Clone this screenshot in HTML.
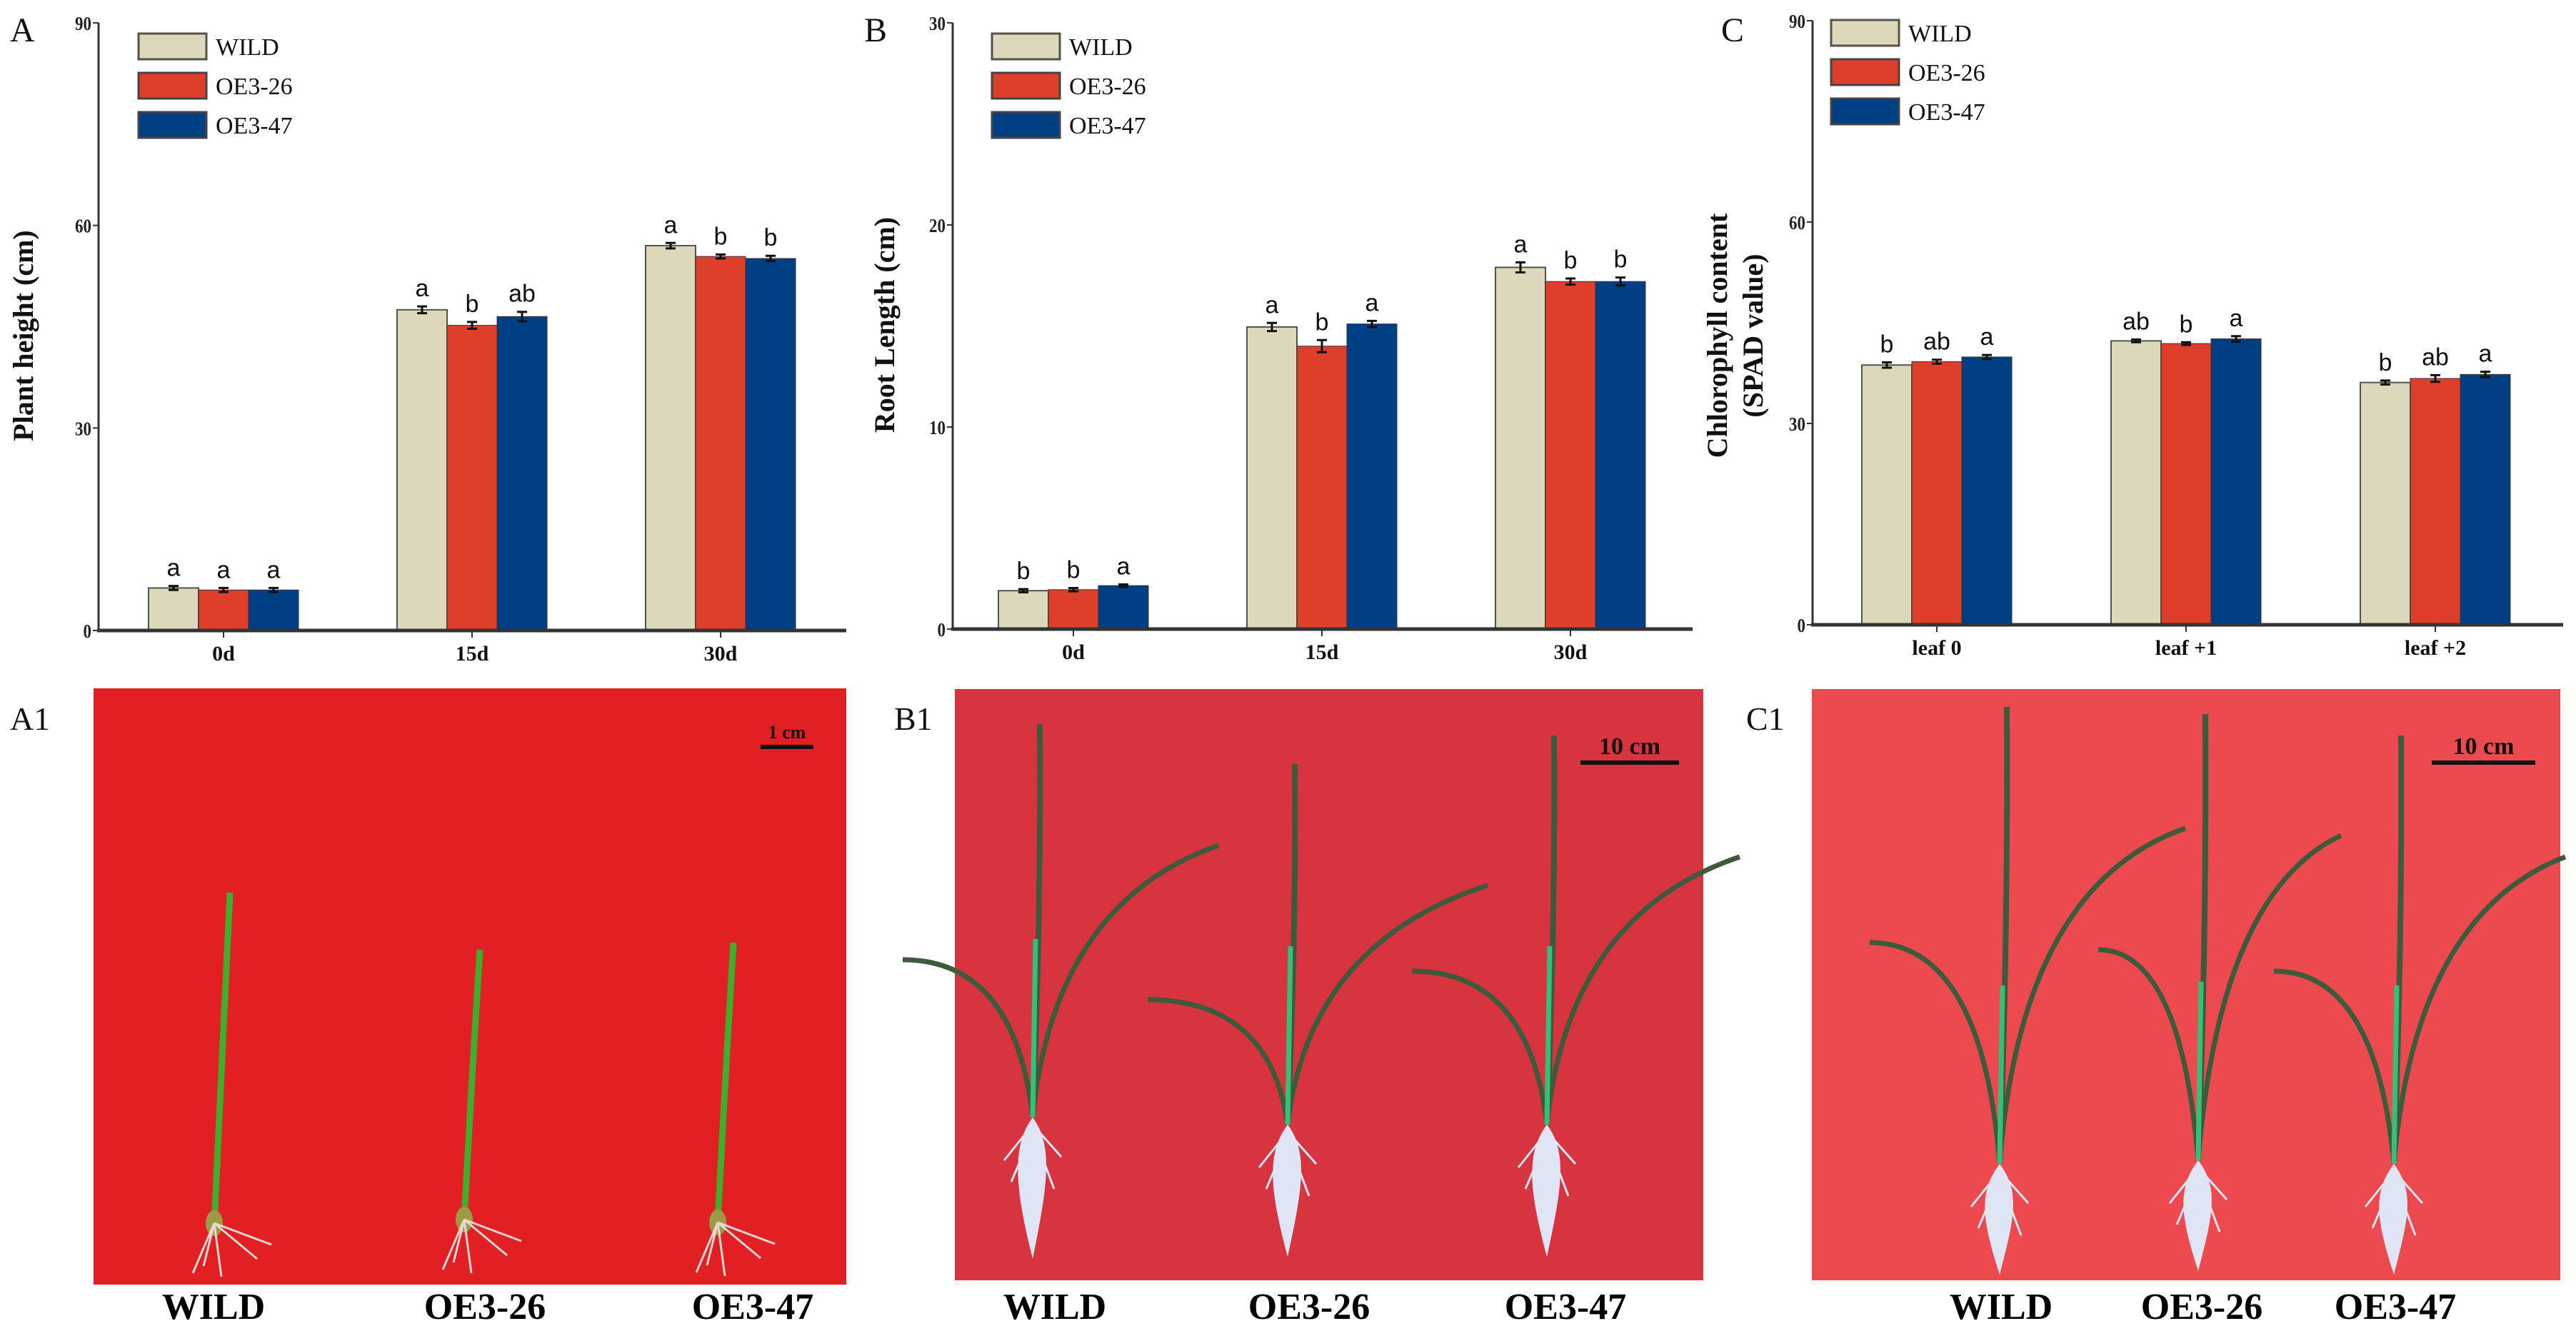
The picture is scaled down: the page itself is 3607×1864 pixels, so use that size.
<!DOCTYPE html>
<html><head><meta charset="utf-8">
<style>
html,body{margin:0;padding:0;background:#fff;}
svg{display:block;}
text{font-family:"Liberation Serif",serif;}
.sans{font-family:"Liberation Sans",sans-serif;}
</style></head>
<body>
<svg id="fig" width="3607" height="1864" viewBox="0 0 3607 1864" xmlns="http://www.w3.org/2000/svg">
<rect width="3607" height="1864" fill="#fff"/>
<g id="charts"></g>
<g id="photos"></g>
</svg>
<script>
const series = ["WILD","OE3-26","OE3-47"];
const colors = ["#dcd8bb","#dd3f2a","#003f84"];
const catsA = ["0d","15d","30d"];
const valsA_wild = [6.3,47.5,57.0];
const valsA_oe26 = [6.0,45.2,55.4];
const valsA_oe47 = [6.0,46.5,55.1];
const errA_wild = [0.3,0.5,0.4];
const errA_oe26 = [0.3,0.5,0.3];
const errA_oe47 = [0.3,0.7,0.4];
const lettersA = [["a","a","a"],["a","b","ab"],["a","b","b"]];
const ticksA = [0,30,60,90];

const catsB = ["0d","15d","30d"];
const valsB_wild = [1.9,14.95,17.9];
const valsB_oe26 = [1.95,14.0,17.2];
const valsB_oe47 = [2.15,15.1,17.2];
const errB_wild = [0.08,0.2,0.25];
const errB_oe26 = [0.08,0.3,0.15];
const errB_oe47 = [0.06,0.15,0.2];
const lettersB = [["b","b","a"],["a","b","a"],["a","b","b"]];
const ticksB = [0,10,20,30];

const catsC = ["leaf 0","leaf +1","leaf +2"];
const valsC_wild = [38.7,42.3,36.1];
const valsC_oe26 = [39.2,41.9,36.7];
const valsC_oe47 = [39.9,42.6,37.3];
const errC_wild = [0.4,0.2,0.3];
const errC_oe26 = [0.3,0.2,0.5];
const errC_oe47 = [0.3,0.4,0.4];
const lettersC = [["b","ab","a"],["ab","b","a"],["b","ab","a"]];
const ticksC = [0,30,60,90];

const NS="http://www.w3.org/2000/svg";
function mk(tag, attrs, parent){const e=document.createElementNS(NS,tag);for(const k in attrs)e.setAttribute(k,attrs[k]);if(parent)parent.appendChild(e);return e;}

function drawChart(cfg){
  const root=document.getElementById('charts');
  const g=mk('g',{},root);
  
  
  const yScale=v=>cfg.y0-(v-cfg.ticks[0])/(cfg.ticks[cfg.ticks.length-1]-cfg.ticks[0])*(cfg.y0-cfg.yTop);
  const xCenter=i=>cfg.gx0+i*cfg.gstep;
  const bw=70;
  const vals=[cfg.v0,cfg.v1,cfg.v2], errs=[cfg.e0,cfg.e1,cfg.e2];
  cfg.cats.forEach((c,i)=>{
    for(let s=0;s<3;s++){
      const x=xCenter(i)+(s-1.5)*bw, yv=yScale(vals[s][i]);
      const r=mk('rect',{x:x,y:yv,width:bw,height:cfg.y0-yv,fill:colors[s],stroke:s==0?'#55524a':'#333',"stroke-width":s==0?2:1},g);
      
      
      const cx=x+bw/2, et=yScale(vals[s][i]+errs[s][i]), eb=yScale(vals[s][i]-errs[s][i]);
      const eg=mk('path',{d:`M${cx},${et}V${eb}M${cx-7},${et}H${cx+7}M${cx-7},${eb}H${cx+7}`,stroke:'#111',"stroke-width":3,fill:'none'},g);
      
      
      const t=mk('text',{x:cx,y:et-14,"text-anchor":"middle","font-size":34,class:'sans',fill:'#111'},g);
      t.textContent=cfg.letters[i][s];
      
      
    }
    mk('line',{x1:xCenter(i),x2:xCenter(i),y1:cfg.y0,y2:cfg.y0+10,stroke:'#333',"stroke-width":2},g);
    const lb=mk('text',{x:xCenter(i),y:cfg.y0+42,"text-anchor":"middle","font-size":30,"font-weight":"bold",fill:'#111'},g);
    lb.textContent=c;
    
    
  });
  const ya=mk('line',{x1:cfg.ax,x2:cfg.ax,y1:cfg.yTop,y2:cfg.y0+2,stroke:'#333',"stroke-width":3},g);
  
  
  const xa=mk('line',{x1:cfg.ax-2,x2:cfg.xEnd,y1:cfg.y0,y2:cfg.y0,stroke:'#333',"stroke-width":5},g);
  
  
  cfg.ticks.forEach(tv=>{
    const y=yScale(tv);
    mk('line',{x1:cfg.ax-8,x2:cfg.ax,y1:y,y2:y,stroke:'#333',"stroke-width":2},g);
    const t=mk('text',{x:cfg.ax-10,y:y+10,"text-anchor":"end","font-size":27,"font-weight":"bold",fill:'#222',transform:`translate(${(cfg.ax-10)*0.15},0) scale(0.85,1)`},g);
    t.textContent=tv;
    
    
  });
  cfg.ytitle.forEach((line,k)=>{
    const t=mk('text',{transform:`translate(${cfg.ytx+k*50},${cfg.yty}) rotate(-90)`,"text-anchor":"middle","font-size":40,"font-weight":"bold",fill:'#111'},g);
    t.textContent=line;
    
    
  });
  const pl=mk('text',{x:cfg.px,y:58,"font-size":48,fill:'#111'},g);
  pl.textContent=cfg.panel;
  
  
  for(let s=0;s<3;s++){
    const y=cfg.ly+s*55;
    const r=mk('rect',{x:cfg.lx,y:y,width:95,height:36,fill:colors[s],stroke:s==0?'#55524a':'#444',"stroke-width":3},g);
    
    
    const t=mk('text',{x:cfg.lx+108,y:y+30,"font-size":34,fill:'#111'},g);
    t.textContent=series[s];
    
    
  }
}
drawChart({name:'chart-plant-height',panel:'A',px:14,ax:138,y0:883,yTop:32,xEnd:1185,gx0:313,gstep:348,cats:catsA,v0:valsA_wild,v1:valsA_oe26,v2:valsA_oe47,e0:errA_wild,e1:errA_oe26,e2:errA_oe47,letters:lettersA,ticks:ticksA,ytitle:['Plant height (cm)'],ytx:46,yty:470,lx:194,ly:47});
drawChart({name:'chart-root-length',panel:'B',px:1210,ax:1334,y0:881,yTop:32,xEnd:2370,gx0:1503,gstep:348,cats:catsB,v0:valsB_wild,v1:valsB_oe26,v2:valsB_oe47,e0:errB_wild,e1:errB_oe26,e2:errB_oe47,letters:lettersB,ticks:ticksB,ytitle:['Root Length (cm)'],ytx:1252,yty:455,lx:1389,ly:47});
drawChart({name:'chart-chlorophyll',panel:'C',px:2410,ax:2538,y0:875,yTop:29,xEnd:3589,gx0:2712,gstep:349,cats:catsC,v0:valsC_wild,v1:valsC_oe26,v2:valsC_oe47,e0:errC_wild,e1:errC_oe26,e2:errC_oe47,letters:lettersC,ticks:ticksC,ytitle:['Chlorophyll content','(SPAD value)'],ytx:2418,yty:470,lx:2564,ly:28});

const P=document.getElementById('photos');
function photo(name,x,y,w,h,fill,label,lx,scaleTxt,sx1,sx2,sty,labels,lxs){
  const g=mk('g',{},P);
  
  
  mk('rect',{x:x,y:y,width:w,height:h,fill:fill},g);
  const t=mk('text',{x:lx,y:1022,"font-size":46,fill:'#111'},g);t.textContent=label;
  
  
  const st=mk('text',{x:(sx1+sx2)/2,y:sty-12,"text-anchor":"middle","font-size":scaleTxt=='1 cm'?26:34,"font-weight":"bold",fill:'#111'},g);st.textContent=scaleTxt;
  
  
  mk('line',{x1:sx1,x2:sx2,y1:sty,y2:sty,stroke:'#111',"stroke-width":6},g);
  labels.forEach((s,i)=>{
    const l=mk('text',{x:lxs[i],y:1847,"text-anchor":"middle","font-size":52,"font-weight":"bold",fill:'#000'},g);
    l.textContent=s;
    
    
  });
  return g;
}
const gA=photo('photo-a1',131,964,1054,835,'#e21f22','A1',14,'1 cm',1065,1139,1046,series,[299,679,1054]);
const gB=photo('photo-b1',1337,965,1048,828,'#d8343f','B1',1252,'10 cm',2213,2351,1068,series,[1477,1833,2192]);
const gC=photo('photo-c1',2537,965,1048,828,'#ec4a4e','C1',2445,'10 cm',3405,3550,1068,series,[2802,3083,3354]);
[[310,1713,1250],[660,1708,1330],[1015,1712,1320]].forEach(p=>{
  const [bx,by,ty]=p;
  mk('path',{d:`M${bx-10},${by} Q${bx},${(by+ty)/2} ${bx+12},${ty}`,stroke:'#3fae2c',"stroke-width":9,fill:'none'},gA);
  mk('ellipse',{cx:bx-10,cy:by,rx:12,ry:18,fill:'#9c9a45'},gA);
  mk('path',{d:`M${bx-10},${by} l-30,70 M${bx-10},${by} l60,50 M${bx-10},${by} l10,75 M${bx-10},${by} l-15,60 M${bx-10},${by} l80,30`,stroke:'#e8d6d0',"stroke-width":3,fill:'none'},gA);
});
function plant(g,bx,by,topY,rootY,spread){
  const leafC='#3d5a3a';
  mk('path',{d:`M${bx},${by} Q${bx+12},${(by+topY)/2} ${bx+10},${topY}`,stroke:leafC,"stroke-width":8,fill:'none'},g);
  mk('path',{d:`M${bx},${by} Q${bx+30},${topY+250} ${bx+spread},${topY+170}`,stroke:leafC,"stroke-width":7,fill:'none'},g);
  mk('path',{d:`M${bx},${by} Q${bx-25},${topY+330} ${bx-spread*0.7},${topY+330}`,stroke:leafC,"stroke-width":7,fill:'none'},g);
  mk('path',{d:`M${bx},${by} L${bx+4},${by-250}`,stroke:'#35c07a',"stroke-width":7,fill:'none'},g);
  const rl=rootY-by;
  mk('path',{d:`M${bx},${by} C${bx-30},${by+40} ${bx-25},${by+rl*0.5} ${bx},${rootY} C${bx+20},${by+rl*0.5} ${bx+30},${by+40} ${bx},${by} Z`,fill:'#dfe5f4'},g);
  mk('path',{d:`M${bx},${by+10} l-40,50 M${bx},${by+10} l40,45 M${bx},${by+20} l-30,70 M${bx},${by+20} l30,80`,stroke:'#dfe5f4',"stroke-width":3,fill:'none'},g);
}
plant(gB,1446,1565,1014,1763,260);
plant(gB,1803,1575,1070,1760,280);
plant(gB,2166,1575,1030,1760,270);
plant(gC,2800,1630,990,1785,260);
plant(gC,3078,1625,1000,1780,200);
plant(gC,3352,1630,1030,1785,240);
</script>
</body></html>
